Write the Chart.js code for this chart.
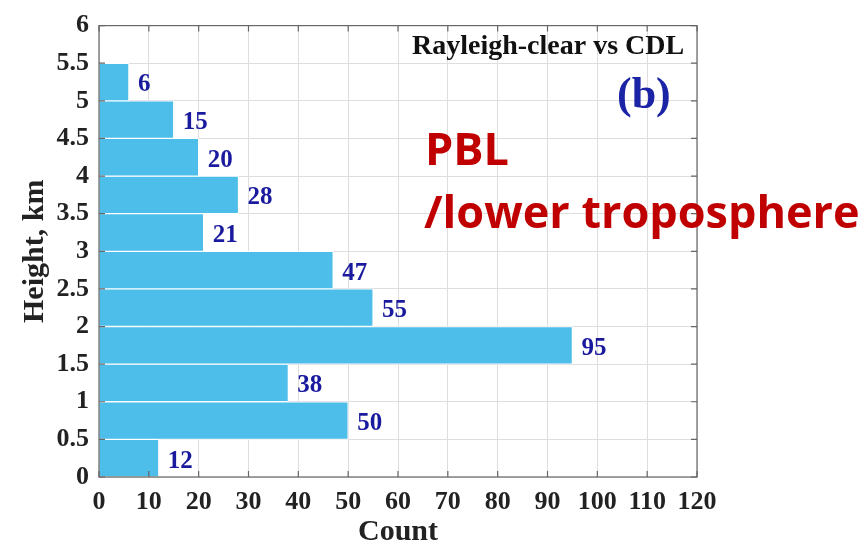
<!DOCTYPE html>
<html>
<head>
<meta charset="utf-8">
<script src="https://cdn.jsdelivr.net/npm/chart.js@4.4.0/dist/chart.umd.min.js"></script>
<style>
  html, body { margin: 0; padding: 0; background: #fff; }
  #wrap { width: 866px; height: 550px; }
</style>
</head>
<body>
<div id="wrap"><canvas id="myChart" width="866" height="550"></canvas></div>
<script>
// bin centres (km) and counts
const heights = [0.25, 0.75, 1.25, 1.75, 2.25, 2.75, 3.25, 3.75, 4.25, 4.75, 5.25]
const counts = [12, 50, 38, 95, 55, 47, 21, 28, 20, 15, 6]
const xTicks = [0, 10, 20, 30, 40, 50, 60, 70, 80, 90, 100, 110, 120]
const yTicks = [0, 0.5, 1, 1.5, 2, 2.5, 3, 3.5, 4, 4.5, 5, 5.5, 6]

const serif = '"Liberation Serif", "Times New Roman", serif'

// value labels + box + inner ticks + overlay texts
const extras = {
  id: 'extras',
  afterDatasetsDraw(chart) {
    const ctx = chart.ctx
    const meta = chart.getDatasetMeta(0)
    ctx.save()
    ctx.fillStyle = '#1a1a9e'
    ctx.font = 'bold 25px ' + serif
    ctx.textAlign = 'left'
    ctx.textBaseline = 'middle'
    meta.data.forEach((bar, i) => {
      ctx.fillText(counts[i], bar.x + 9, bar.y + 3)
    })
    ctx.restore()
  },
  afterDraw(chart) {
    const ctx = chart.ctx
    const a = chart.chartArea
    const xs = chart.scales.x, ys = chart.scales.y
    ctx.save()
    ctx.strokeStyle = '#666'
    ctx.lineWidth = 1.2
    ctx.strokeRect(a.left, a.top, a.right - a.left, a.bottom - a.top)
    ctx.beginPath()
    xTicks.forEach(v => {
      const px = xs.getPixelForValue(v)
      ctx.moveTo(px, a.bottom); ctx.lineTo(px, a.bottom - 6)
      ctx.moveTo(px, a.top); ctx.lineTo(px, a.top + 6)
    })
    yTicks.forEach(v => {
      const py = ys.getPixelForValue(v)
      ctx.moveTo(a.left, py); ctx.lineTo(a.left + 6, py)
      ctx.moveTo(a.right, py); ctx.lineTo(a.right - 6, py)
    })
    ctx.stroke()

    ctx.textBaseline = 'alphabetic'
    ctx.textAlign = 'left'
    ctx.fillStyle = '#111'
    ctx.font = 'bold 28px ' + serif
    ctx.fillText('Rayleigh-clear vs CDL', 412, 54)

    ctx.fillStyle = '#1c24a6'
    ctx.font = 'bold 44px ' + serif
    ctx.fillText('(b)', 617, 108)

    ctx.fillStyle = '#c00000'
    ctx.font = 'bold 45px "Open Sans", Lato, sans-serif'
    ctx.fillText('PBL', 425, 165)
    ctx.fillText('/lower troposphere', 424, 228)
    ctx.restore()
  }
}

const ctx = document.getElementById('myChart').getContext('2d')
const chart = new Chart(ctx, {
  type: 'bar',
  data: {
    datasets: [{
      data: heights.map((h, i) => ({ x: counts[i], y: h })),
      backgroundColor: '#4dbde9',
      borderColor: '#ffffff',
      borderWidth: 1,
      barPercentage: 1,
      categoryPercentage: 1
    }]
  },
  options: {
    indexAxis: 'y',
    responsive: false,
    animation: false,
    layout: { padding: { left: 0, right: 169, top: 19, bottom: 0 } },
    plugins: { legend: { display: false }, tooltip: { enabled: false } },
    scales: {
      x: {
        type: 'linear',
        min: 0, max: 120,
        afterBuildTicks: s => { s.ticks = xTicks.map(v => ({ value: v })) },
        afterFit: s => { s.height = 73 },
        grid: { color: '#dedede', drawTicks: false },
        border: { display: false },
        ticks: { color: '#222', padding: 10, callback: v => String(v),
                 font: { family: serif, size: 26, weight: 'bold' } },
        title: { display: true, text: 'Count', color: '#222', padding: { top: 0, bottom: 0 },
                 font: { family: serif, size: 30, weight: 'bold' } }
      },
      y: {
        type: 'linear',
        offset: false,
        min: 0, max: 6,
        afterBuildTicks: s => { s.ticks = yTicks.map(v => ({ value: v })) },
        afterFit: s => { s.width = 99 },
        grid: { color: '#dedede', drawTicks: false, offset: false },
        border: { display: false },
        ticks: { color: '#222', padding: 10, callback: v => String(v),
                 font: { family: serif, size: 26, weight: 'bold' } },
        title: { display: true, text: 'Height, km', color: '#222', padding: { top: 17, bottom: 0 },
                 font: { family: serif, size: 30, weight: 'bold' } }
      }
    }
  },
  plugins: [extras]
})
</script>
</body>
</html>
